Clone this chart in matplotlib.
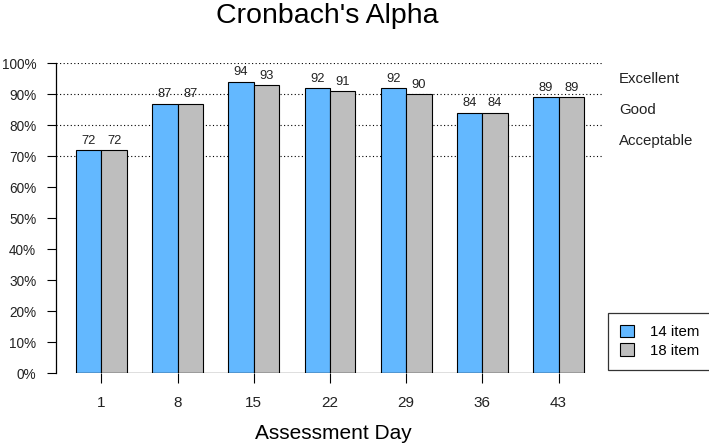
import numpy as np
import matplotlib
matplotlib.use("Agg")
import matplotlib.pyplot as plt
import matplotlib.transforms as mtransforms
from matplotlib.patches import Patch

plt.rcParams["font.family"] = ["Liberation Sans", "DejaVu Sans"]

# data
days = ["1", "8", "15", "22", "29", "36", "43"]
alpha_14 = [72, 87, 94, 92, 92, 84, 89]
alpha_18 = [72, 87, 93, 91, 90, 84, 89]
series_names = ["14 item", "18 item"]
thresholds = [70, 80, 90, 100]
band_labels = ["Acceptable", "Good", "Excellent"]
band_mids = [75, 85, 95]

blue = "#63B8FF"
grey = "#BEBEBE"

W, H = 709, 446
fig = plt.figure(figsize=(W / 100, H / 100), dpi=100)

# axes placed in pixels so the layout matches the R barplot
px_left, px_right = 55.7, 604.3
px_top, px_bottom = 63.3, 373.3
ax = fig.add_axes([px_left / W, 1 - px_bottom / H,
                   (px_right - px_left) / W, (px_bottom - px_top) / H])

# R-style beside barplot: bar width 1, space of 1 between groups
n = len(days)
left_14 = 1 + 3 * np.arange(n)
left_18 = left_14 + 1
centers = left_14 + 1

ax.set_xlim(0.2, 3 * n + 0.8)
ax.set_ylim(0, 100)

for y in thresholds:
    ax.axhline(y, color="black", lw=0.8, linestyle=(0, (1, 2.2)), zorder=1)

b1 = ax.bar(left_14, alpha_14, width=1, align="edge", color=blue,
            edgecolor="black", linewidth=0.8, zorder=2)
b2 = ax.bar(left_18, alpha_18, width=1, align="edge", color=grey,
            edgecolor="black", linewidth=0.8, zorder=2)
ax.plot([left_14[0], left_18[-1] + 1], [0, 0], color="black", lw=0.9, zorder=3)

for bars, vals in ((b1, alpha_14), (b2, alpha_18)):
    for b, v in zip(bars, vals):
        ax.annotate(str(v), (b.get_x() + 0.5, v), xytext=(0, 2.5),
                    textcoords="offset points", ha="center", va="bottom",
                    fontsize=9.3, color="#222222", zorder=4)

# right-hand band labels, outside the plot area
trans = mtransforms.blended_transform_factory(fig.transFigure, ax.transData)
for lab, ymid in zip(band_labels, band_mids):
    ax.text(619 / W, ymid, lab, transform=trans,
            ha="left", va="center", fontsize=10.8, color="#222222")

# axes styling
for s in ("top", "right", "bottom"):
    ax.spines[s].set_visible(False)
ax.spines["left"].set_bounds(0, 100)
ax.spines["left"].set_linewidth(0.9)

yt = np.arange(0, 101, 10)
ax.set_yticks(yt)
ax.set_yticklabels([f"{v}%" for v in yt], fontsize=9.8, color="#222222")
ax.tick_params(axis="y", direction="out", length=6.5, width=0.8, pad=7.5)

ax.set_xticks(centers)
ax.set_xticklabels(days, fontsize=11, color="#222222")
ax.tick_params(axis="x", direction="out", length=7.2, width=0.8, pad=9.5)

fig.text(327.7 / W, 1 - 23 / H, "Cronbach's Alpha", ha="center", va="baseline",
         fontsize=20.5, color="black")
fig.text(333 / W, 1 - 439 / H, "Assessment Day", ha="center", va="baseline",
         fontsize=15, color="black")

handles = [Patch(facecolor=blue, edgecolor="black", linewidth=0.8),
           Patch(facecolor=grey, edgecolor="black", linewidth=0.8)]
leg = fig.legend(handles, series_names, loc="upper left",
                 bbox_to_anchor=(608 / W, 1 - 313 / H),
                 fontsize=10.8, frameon=True, fancybox=False,
                 handlelength=0.9, handleheight=0.9, handletextpad=1.1,
                 borderpad=0.8, labelspacing=0.25, borderaxespad=0)
leg.get_frame().set_edgecolor("black")
leg.get_frame().set_linewidth(0.9)

fig.savefig("out.png", dpi=100)
